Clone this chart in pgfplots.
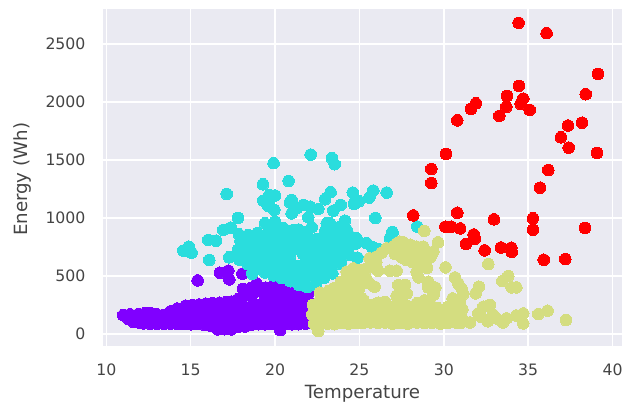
\documentclass[border=0pt]{standalone}
\usepackage{pgfplots}
\usepackage{fontspec}
\setmainfont{DejaVu Sans}
\pgfplotsset{compat=1.18}
\definecolor{bgc}{HTML}{EAEAF2}
\definecolor{txt}{HTML}{444444}
\definecolor{cpur}{HTML}{8000FF}
\definecolor{ccya}{HTML}{2ADDDD}
\definecolor{cyel}{HTML}{D4DD80}
\definecolor{cred}{HTML}{FF0000}
\pgfplotstableread{
T E
11.0 163
11.3 130
11.4 170
11.6 105
11.9 100
11.9 172
12.2 92
12.2 135
12.3 180
12.6 88
12.6 140
12.6 183
13.0 90
13.0 135
13.0 170
13.4 88
13.4 125
13.4 165
13.8 90
13.8 140
13.8 195
14.2 86
14.2 150
14.2 220
14.6 88
14.6 170
14.7 245
15.0 84
15.0 165
15.1 250
15.4 88
15.4 170
15.5 255
15.8 80
15.8 165
15.9 262
16.2 70
16.2 150
16.2 220
16.3 265
16.6 40
16.6 110
16.6 190
16.7 270
17.0 42
17.0 120
17.0 205
17.1 275
17.4 40
17.4 125
17.4 205
17.4 280
17.8 60
17.8 140
17.8 225
17.8 300
18.1 390
18.1 330
18.2 65
18.2 150
18.2 235
18.6 80
18.6 160
18.6 240
18.6 325
18.55 395
18.9 436
18.9 375
19.0 85
19.0 165
19.0 250
19.4 85
19.4 165
19.4 245
19.4 325
19.45 400
19.8 88
19.8 170
19.8 250
19.8 330
19.8 405
20.1 436
20.1 375
20.3 34
20.2 100
20.2 180
20.2 260
20.2 340
20.6 85
20.6 165
20.6 245
20.6 325
20.6 395
21.0 85
21.0 165
21.0 245
21.0 325
21.1 356
21.4 85
21.4 165
21.4 245
21.4 325
21.8 90
21.8 170
21.8 250
21.8 330
22.0 356
22.1 110
22.1 190
22.1 270
15.41 462
16.73 528
17.23 546
17.29 471
18.06 520
}\purpletable
\pgfplotstableread{
T E
23.37 1515
22.11 1546
23.53 1463
19.91 1472
19.28 1290
20.8 1319
17.13 1207
19.66 1199
20.0 1193
19.3 1150
19.66 1155
19.6 1104
19.95 1069
20.98 1155
20.88 1135
21.67 1112
22.07 1098
22.56 1078
20.98 1040
21.28 1084
21.97 1006
23.29 1222
22.96 1161
24.6 1219
24.97 1144
24.68 1121
23.89 1112
23.45 1063
25.82 1236
25.59 1176
26.61 1219
25.94 1000
26.95 880
26.81 825
28.43 925
26.96 873
17.8 1000
16.93 897
17.38 917
16.04 811
16.5 805
14.89 753
14.56 719
15.05 701
16.1 638
17.28 661
24.89 658
24.14 977
23.06 954
23.25 954
22.17 920
19.4 954
20.0 969
19.8 925
20.5 911
21.08 897
24.24 897
24.83 825
25.43 782
26.12 733
25.75 750
17.9 640
17.8 725
17.95 805
17.85 860
18.4 600
18.45 685
18.35 760
18.4 852
18.9 565
18.85 640
18.95 722
18.9 800
18.95 870
18.65 520
19.4 530
19.35 612
19.45 690
19.4 770
19.35 850
19.9 505
19.85 582
19.95 660
19.9 742
19.85 822
19.95 895
20.4 482
20.35 562
20.45 640
20.4 722
20.35 800
20.45 880
20.9 455
20.85 530
20.95 612
20.9 690
20.85 772
20.95 850
21.4 425
21.35 505
21.45 585
21.35 745
21.45 822
21.4 900
21.9 405
21.85 482
21.95 560
21.9 642
21.85 722
21.95 800
21.9 882
22.4 422
22.35 502
22.45 582
22.4 660
22.35 742
22.45 820
22.9 482
22.85 562
22.95 640
22.9 722
22.85 802
22.95 882
23.4 522
23.35 602
23.45 682
23.4 762
23.35 842
23.45 920
23.9 602
23.85 682
23.95 762
23.9 842
23.85 922
24.4 682
24.35 762
24.45 842
24.8 780
21.15 800
21.15 730
21.65 690
22.15 620
22.15 700
22.65 780
22.65 700
22.65 620
23.15 680
23.15 760
23.65 720
23.65 800
24.15 780
24.15 700
}\cyantable
\pgfplotstableread{
T E
28.84 888
29.65 790
27.4 796
27.6 790
28.0 770
28.39 753
28.78 753
29.38 710
29.2 660
27.0 753
26.6 738
26.0 666
26.3 700
27.2 780
27.3 720
27.7 720
28.1 700
28.5 690
28.9 710
27.8 638
28.15 620
28.4 638
28.98 652
28.65 590
29.0 570
27.1 690
27.5 660
28.7 700
25.6 652
26.0 620
24.63 566
25.03 551
24.24 537
24.5 500
24.9 470
25.4 560
25.7 590
25.4 480
23.9 450
24.2 440
24.6 420
25.0 400
26.1 546
26.8 546
27.2 546
28.39 537
28.5 488
25.3 451
25.9 408
25.6 436
25.1 508
29.08 451
29.08 402
29.5 400
29.4 340
27.3 422
27.7 422
27.4 379
27.8 350
27.2 330
30.1 574
30.66 488
30.86 436
31.05 393
31.15 345
32.08 408
31.88 350
32.64 603
33.82 500
33.47 457
34.02 402
34.3 402
30.52 307
32.73 250
32.34 235
32.04 178
34.71 178
34.71 92
35.6 172
36.15 201
37.24 120
22.56 25
31.55 100
33.13 135
33.72 135
33.5 100
34.3 160
32.6 110
32.9 170
32.2 150
31.1 130
31.1 215
30.95 270
22.3 90
22.2 170
22.25 250
22.66 356
22.7 85
22.7 150
22.7 215
22.65 285
23.1 90
23.1 160
23.1 235
23.1 310
23.15 370
23.5 85
23.5 155
23.5 225
23.5 300
23.45 393
23.9 95
23.9 165
23.9 240
23.9 310
24.0 380
24.35 90
24.35 165
24.35 235
24.35 330
24.8 95
24.8 165
24.8 230
24.8 300
24.6 360
25.2 95
25.2 160
25.2 240
25.2 300
25.65 100
25.65 170
25.65 250
26.1 95
26.1 165
26.1 225
26.1 270
26.5 100
26.5 170
26.5 278
26.95 90
26.95 165
26.95 235
27.4 95
27.4 170
27.4 225
27.4 280
27.85 90
27.85 160
27.85 240
28.4 100
28.4 175
28.4 265
28.85 95
28.85 165
28.85 235
28.85 290
29.3 95
29.3 170
29.3 240
29.65 222
29.8 90
29.8 160
30.25 95
30.25 170
30.25 235
30.7 100
30.76 205
30.75 160
31.0 95
}\yellowtable
\pgfplotstableread{
T E
34.43 2681
36.09 2592
39.14 2241
34.45 2138
38.41 2066
33.74 2051
34.71 2028
31.90 1988
34.55 1982
33.70 1956
31.61 1939
35.09 1931
33.29 1879
30.80 1841
38.19 1821
37.36 1796
36.94 1695
37.40 1606
39.08 1560
30.13 1551
29.26 1422
36.19 1413
29.26 1301
35.70 1261
28.19 1022
30.80 1045
32.97 988
35.28 997
35.28 899
38.37 913
30.09 925
30.44 925
30.97 910
31.77 858
31.84 821
31.31 775
32.42 721
33.39 746
34.00 744
34.02 709
35.92 640
37.20 646
}\redtable
\begin{document}
\begin{tikzpicture}[x=1pt,y=1pt]
\path[use as bounding box] (0,0) rectangle (622,403);
\begin{axis}[
  at={(103pt,57.3pt)},anchor=south west,
  scale only axis,width=519pt,height=336.7pt,
  xmin=9.8,xmax=40.56,ymin=-100,ymax=2800,
  xtick={10,15,...,40},ytick={0,500,...,2500},
  axis line style={draw=none},
  major tick length=0pt,
  grid=major,
  grid style={white,line width=1.5pt},
  axis background/.style={fill=bgc},
  /pgf/number format/assume math mode=true,
  /pgf/number format/1000 sep={},
  tick label style={font=\fontsize{15.7}{18}\selectfont,text=txt},
  yticklabel style={xshift=-14pt},
  xticklabel style={yshift=-15pt},
  xlabel={Temperature},ylabel={Energy (Wh)},
  label style={font=\fontsize{18.2}{20}\selectfont,text=txt},
  xlabel style={at={(axis description cs:0.5,0)},anchor=base,yshift=-53pt,xshift=0pt},
  ylabel style={at={(axis description cs:0,0.5)},anchor=base,rotate=0,xshift=-2pt,yshift=75pt},
]
\addplot[only marks,mark=*,mark size=5.8pt,mark options={draw=cpur,fill=cpur,line width=0pt}] table[x=T,y=E] {\purpletable};
\addplot[only marks,mark=*,mark size=5.8pt,mark options={draw=ccya,fill=ccya,line width=0pt}] table[x=T,y=E] {\cyantable};
\addplot[only marks,mark=*,mark size=5.8pt,mark options={draw=cyel,fill=cyel,line width=0pt}] table[x=T,y=E] {\yellowtable};
\addplot[only marks,mark=*,mark size=5.8pt,mark options={draw=cred,fill=cred,line width=0pt}] table[x=T,y=E] {\redtable};
\end{axis}
\end{tikzpicture}
\end{document}
